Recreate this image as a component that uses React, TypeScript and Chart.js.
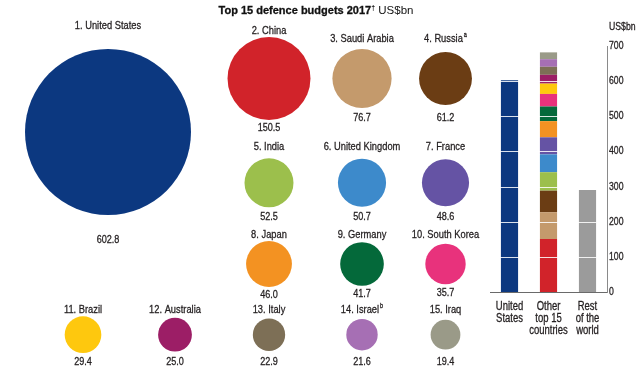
import React, { useEffect, useRef } from "react";
import { Chart, registerables } from "chart.js";
Chart.register(...registerables);

// ---------- data ----------
const countries = [
  "United States", "China", "Saudi Arabia", "Russia", "India",
  "United Kingdom", "France", "Japan", "Germany", "South Korea",
  "Brazil", "Australia", "Italy", "Israel", "Iraq",
];
const notes = ["", "", "", "a", "", "", "", "", "", "", "", "", "", "b", ""];
const budgets = [602.8, 150.5, 76.7, 61.2, 52.5, 50.7, 48.6, 46.0, 41.7, 35.7, 29.4, 25.0, 22.9, 21.6, 19.4];
const restOfWorld = 290;
const barCategories = [["United", "States"], ["Other", "top 15", "countries"], ["Rest", "of the", "world"]];
const yMax = 700;
const yStep = 100;

// ---------- styles ----------
const colors = [
  "#0c3880", "#d1232a", "#c49a6c", "#6b3d14", "#9cbf4c",
  "#3d8acb", "#6553a4", "#f39222", "#04693a", "#e8327c",
  "#fec80e", "#9c1e66", "#7d6f56", "#a66fb4", "#9a9a88",
];
const restColor = "#9b9b9b";
const textColor = "#231f20";
const FAMILY = "'Liberation Sans', Arial, sans-serif";
const SX = 0.79; // condensed look

// ---------- layout (grid of the graphic, px) ----------
const posX = [108, 269, 362, 445.5, 269, 362, 445.5, 269, 362, 445.5, 83, 175, 269, 362, 445.5];
const posY = [132, 78.5, 78.5, 78.5, 182.8, 182.8, 182.8, 264, 264, 264, 334.7, 334.7, 334.7, 334.7, 334.7];
const labelY = [26, 39, 39, 39, 146.7, 146.7, 146.7, 235, 235, 235, 310, 310, 310, 310, 310];
const valueY = [240, 118, 118, 118, 217.3, 217.3, 217.3, 293, 293, 293, 361.7, 361.7, 361.7, 361.7, 361.7];
const R_MAX = 83;

function measure(ctx: CanvasRenderingContext2D, s: string, size: number, bold = false, sx = SX) {
  ctx.font = `${bold ? "bold " : ""}${size}px ${FAMILY}`;
  return ctx.measureText(s).width * sx;
}

function put(ctx: CanvasRenderingContext2D, s: string, x: number, y: number, size: number, bold = false, sx = SX, color = textColor, weight = 0.3) {
  ctx.save();
  ctx.font = `${bold ? "bold " : ""}${size}px ${FAMILY}`;
  ctx.fillStyle = color;
  ctx.strokeStyle = color;
  ctx.lineWidth = weight;
  ctx.textAlign = "left";
  ctx.textBaseline = "middle";
  ctx.translate(x, y);
  ctx.scale(sx, 1);
  ctx.fillText(s, 0, 0);
  if (weight > 0) ctx.strokeText(s, 0, 0);
  ctx.restore();
}

function putCentered(ctx: CanvasRenderingContext2D, s: string, x: number, y: number, size: number, sup = "") {
  const w1 = measure(ctx, s, size);
  const w2 = sup ? measure(ctx, sup, size * 0.6) + 1 : 0;
  const x0 = x - (w1 + w2) / 2;
  put(ctx, s, x0, y, size);
  if (sup) put(ctx, sup, x0 + w1 + 1, y - size * 0.3, size * 0.6);
}

const bubbleLabels = {
  id: "bubbleLabels",
  afterDatasetsDraw(chart: any) {
    const ctx: CanvasRenderingContext2D = chart.ctx;
    const meta = chart.getDatasetMeta(0);
    meta.data.forEach((el: any, i: number) => {
      const r = R_MAX * Math.sqrt(budgets[i] / budgets[0]);
      const ly = Math.min(labelY[i], el.y - r - 6);
      const vy = Math.max(valueY[i], el.y + r + 8);
      putCentered(ctx, `${i + 1}. ${countries[i]}`, el.x, ly, 11.8, notes[i]);
      putCentered(ctx, budgets[i].toFixed(1), el.x, vy, 11.5);
    });
    // title
    const tx = 316, ty = 11;
    const p1 = "Top 15 defence budgets 2017", p2 = "\u2020", p3 = " US$bn";
    const w1 = measure(ctx, p1, 11, true, 1);
    const w2 = measure(ctx, p2, 7, true, 1);
    const w3 = measure(ctx, p3, 11.5, false, 1);
    let x = tx - (w1 + w2 + w3) / 2;
    put(ctx, p1, x, ty, 11, true, 1, "#111", 0.3);
    x += w1;
    put(ctx, p2, x, ty - 3, 7, true, 1, "#111", 0);
    x += w2;
    put(ctx, p3, x, ty, 11.5, false, 1, "#111", 0);
  },
};

const barText = {
  id: "barText",
  afterDatasetsDraw(chart: any) {
    // white value lines across the bars
    const ctx: CanvasRenderingContext2D = chart.ctx;
    const ys = chart.scales.y;
    const { left, right } = chart.chartArea;
    ctx.save();
    ctx.strokeStyle = "rgba(255,255,255,0.85)";
    ctx.lineWidth = 1;
    for (let v = yStep; v <= yMax; v += yStep) {
      const py = Math.round(ys.getPixelForValue(v)) + 0.5;
      ctx.beginPath();
      ctx.moveTo(left, py);
      ctx.lineTo(right - 1, py);
      ctx.stroke();
    }
    ctx.restore();
  },
  afterDraw(chart: any) {
    const ctx: CanvasRenderingContext2D = chart.ctx;
    const ys = chart.scales.y;
    const xs = chart.scales.x;
    put(ctx, "US$bn", ys.left + 2, 27, 11);
    for (let v = 0; v <= yMax; v += yStep) {
      put(ctx, String(v), ys.left + 2, ys.getPixelForValue(v), 11);
    }
    barCategories.forEach((lines, i) => {
      const cx = xs.getPixelForValue(i);
      lines.forEach((ln, k) => {
        const w = measure(ctx, ln, 12);
        put(ctx, ln, cx - w / 2, xs.top + 14.7 + k * 12.2, 12);
      });
    });
  },
};

export default function App() {
  const bubbleRef = useRef<HTMLCanvasElement>(null);
  const barRef = useRef<HTMLCanvasElement>(null);

  useEffect(() => {
    const bubble = new Chart(bubbleRef.current!, {
      type: "bubble",
      data: {
        datasets: [
          {
            data: budgets.map((v, i) => ({ x: posX[i], y: posY[i], r: R_MAX * Math.sqrt(v / budgets[0]) })),
            backgroundColor: colors,
            borderWidth: 0,
            hoverRadius: 0,
            hoverBorderWidth: 0,
            clip: false,
          } as any,
        ],
      },
      options: {
        animation: false,
        responsive: false,
        events: [],
        layout: { padding: 0, autoPadding: false } as any,
        plugins: { legend: { display: false }, tooltip: { enabled: false } },
        scales: {
          x: { type: "linear", display: false, min: 0, max: 640 },
          y: { type: "linear", display: false, min: 0, max: 376, reverse: true },
        },
      },
      plugins: [bubbleLabels],
    });

    const common = { barPercentage: 0.44, categoryPercentage: 1, borderWidth: 0, stack: "s" };
    const datasets: any[] = [
      { label: countries[0], data: [budgets[0], null, null], backgroundColor: colors[0], ...common },
      ...budgets.slice(1).map((v, k) => ({
        label: countries[k + 1],
        data: [null, v, null],
        backgroundColor: colors[k + 1],
        ...common,
      })),
      { label: "Rest of the world", data: [null, null, restOfWorld], backgroundColor: restColor, ...common },
    ];

    const bar = new Chart(barRef.current!, {
      type: "bar",
      data: { labels: barCategories.map((l) => l.join(" ")), datasets },
      options: {
        animation: false,
        responsive: false,
        events: [],
        layout: { padding: { left: 10, top: 46, right: 0, bottom: 0 }, autoPadding: false } as any,
        plugins: { legend: { display: false }, tooltip: { enabled: false } },
        scales: {
          x: {
            stacked: true,
            grid: { display: false, drawTicks: false },
            border: { display: true, color: "#6a6a6a", width: 1 },
            ticks: { display: false },
            afterFit: (s: any) => { s.height = 84; },
          },
          y: {
            stacked: true,
            position: "right",
            min: 0,
            max: yMax,
            grid: { display: false, drawTicks: false },
            border: { display: true, color: "#8a8a8a", width: 1 },
            ticks: { display: false, stepSize: yStep },
            afterFit: (s: any) => { s.width = 33; },
          },
        },
      },
      plugins: [barText],
    });

    return () => {
      bubble.destroy();
      bar.destroy();
    };
  }, []);

  return (
    <div style={{ position: "absolute", left: 0, top: 0, width: 640, height: 376, background: "#fff" }}>
      <canvas ref={bubbleRef} width={640} height={376} style={{ position: "absolute", left: 0, top: 0 }} />
      <canvas ref={barRef} width={160} height={376} style={{ position: "absolute", left: 480, top: 0 }} />
    </div>
  );
}
